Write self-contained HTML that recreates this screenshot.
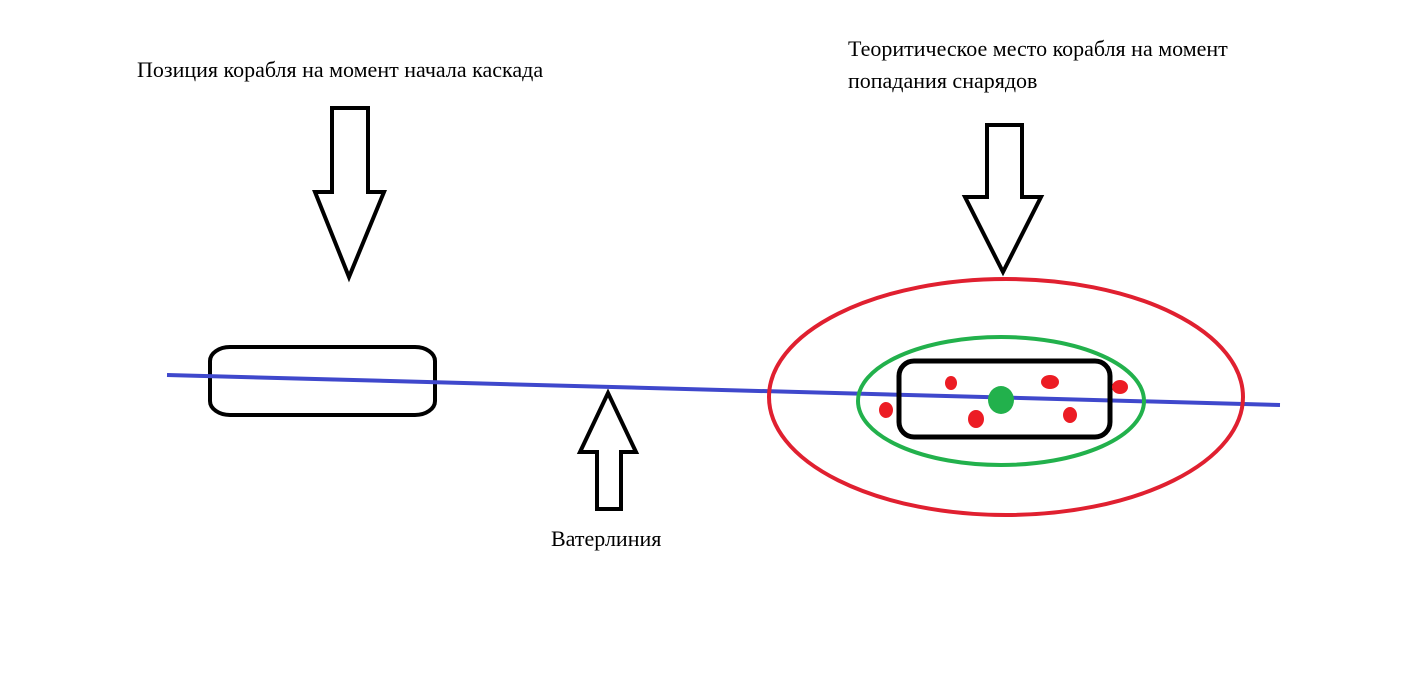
<!DOCTYPE html>
<html><head><meta charset="utf-8"><style>
html,body{margin:0;padding:0;background:#fff;width:1428px;height:690px;overflow:hidden}
</style></head><body>
<svg width="1428" height="690" xmlns="http://www.w3.org/2000/svg" style="display:block">
<rect width="1428" height="690" fill="#fff"/>
<g font-family="Liberation Serif, serif" font-size="22" fill="#000">
<text x="137" y="77">Позиция корабля на момент начала каскада</text>
<text x="848" y="56">Теоритическое место корабля на момент</text>
<text x="848" y="88">попадания снарядов</text>
<text x="551" y="546">Ватерлиния</text>
</g>
<g fill="none" stroke="#000" stroke-width="4" stroke-linejoin="miter">
<polygon points="332,108 368,108 368,192 384,192 349,277 315,192 332,192"/>
<polygon points="987,125 1022,125 1022,197 1041,197 1003,272 965,197 987,197"/>
<polygon points="608,393 636,452 621,452 621,509 597,509 597,452 580,452"/>
<rect x="210" y="347" width="225" height="68" rx="20" ry="14"/>
</g>
<line x1="167" y1="375" x2="1280" y2="405" stroke="#3f48cc" stroke-width="4"/>
<ellipse cx="1006" cy="397" rx="237" ry="118" fill="none" stroke="#e02030" stroke-width="4"/>
<ellipse cx="1001" cy="401" rx="143" ry="64" fill="none" stroke="#22b14c" stroke-width="4"/>
<rect x="899" y="361" width="211" height="76" rx="15" fill="none" stroke="#000" stroke-width="5"/>
<g fill="#ec1c24">
<ellipse cx="886" cy="410" rx="7" ry="8"/>
<ellipse cx="951" cy="383" rx="6" ry="7"/>
<ellipse cx="1050" cy="382" rx="9" ry="7"/>
<ellipse cx="1120" cy="387" rx="8" ry="7"/>
<ellipse cx="976" cy="419" rx="8" ry="9"/>
<ellipse cx="1070" cy="415" rx="7" ry="8"/>
</g>
<ellipse cx="1001" cy="400" rx="13" ry="14" fill="#22b14c"/>
</svg>
</body></html>
